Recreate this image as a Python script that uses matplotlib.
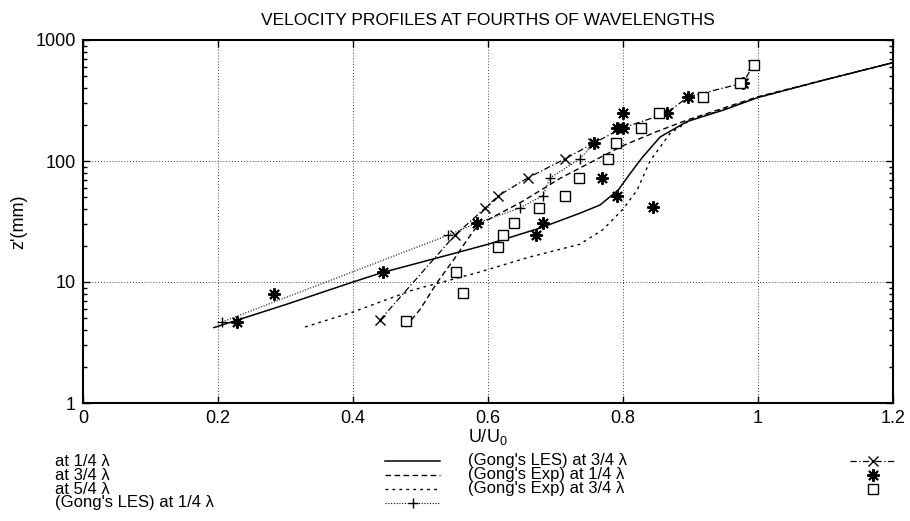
import matplotlib.pyplot as plt
from matplotlib.lines import Line2D
from matplotlib.ticker import LogLocator, NullFormatter

plt.rcParams['font.family'] = ['Liberation Sans', 'DejaVu Sans']

# velocity profiles, U/U0 against z' (mm)
u_quarter = [0.194, 0.30, 0.40, 0.444, 0.53, 0.60, 0.677, 0.736, 0.766, 0.793, 0.81,
             0.828, 0.855, 0.895, 0.95, 1.0, 1.1, 1.2]
z_quarter = [4.2, 6.5, 10.0, 12.0, 16.1, 20.5, 27.9, 37.0, 43.3, 57.6, 78.0,
             106, 158, 212, 265, 335, 470, 650]

u_3quarter = [0.478, 0.50, 0.524, 0.55, 0.569, 0.585, 0.65, 0.707, 0.75, 0.80, 0.85,
              0.895, 0.95, 1.0, 1.1, 1.2]
z_3quarter = [4.25, 6.0, 9.8, 15.5, 22.3, 29.5, 46, 72, 96, 134, 175,
              218, 275, 340, 470, 650]

u_5quarter = [0.329, 0.40, 0.489, 0.588, 0.66, 0.736, 0.77, 0.80, 0.821, 0.84, 0.87,
              0.90, 0.95, 1.0, 1.1, 1.2]
z_5quarter = [4.25, 5.65, 8.6, 12.1, 16.0, 20.5, 27.0, 40.0, 57.6, 100, 170,
              218, 268, 335, 470, 650]

# Gong's LES
les_u14 = [0.206, 0.541, 0.583, 0.647, 0.681, 0.692, 0.736, 0.757]
les_z14 = [4.67, 24.4, 30.6, 40.9, 51.5, 72.5, 104, 140]
les_u34 = [0.44, 0.551, 0.596, 0.615, 0.659, 0.714, 0.756, 0.80, 0.865, 0.896, 0.978, 0.993]
les_z34 = [4.85, 24.4, 40.9, 51.5, 72.5, 104, 140, 188, 249, 338, 441, 622]

# Gong's experiment
exp_u14 = [0.228, 0.283, 0.444, 0.671, 0.583, 0.681, 0.844, 0.791, 0.769, 0.757,
           0.791, 0.80, 0.80, 0.865, 0.896, 0.978]
exp_z14 = [4.7, 8.0, 12.1, 24.4, 30.6, 30.6, 41.5, 51.5, 72.5, 140,
           188, 188, 249, 249, 338, 441]
exp_u34 = [0.479, 0.563, 0.553, 0.615, 0.622, 0.638, 0.676, 0.714, 0.735, 0.778,
           0.79, 0.827, 0.853, 0.919, 0.973, 0.994]
exp_z34 = [4.76, 8.1, 12.1, 19.5, 24.4, 30.6, 40.9, 51.5, 72.5, 104,
           140, 188, 249, 338, 441, 622]

x_ticks = [0, 0.2, 0.4, 0.6, 0.8, 1.0, 1.2]
x_labels = ['0', '0.2', '0.4', '0.6', '0.8', '1', '1.2']
y_ticks = [1, 10, 100, 1000]
y_labels = ['1', '10', '100', '1000']

W, H = 910, 521
fig = plt.figure(figsize=(W / 100, H / 100), dpi=100)
ax = fig.add_axes([83 / W, 1 - 403 / H, 810 / W, 363 / H])

st_solid = dict(color='k', lw=1.1, ls='-')
st_dash = dict(color='k', lw=1.0, ls=(0, (4, 2.5)))
st_dot = dict(color='k', lw=1.0, ls=(0, (2, 3)))
st_les14 = dict(color='k', lw=0.8, ls=(0, (1, 1.5)), marker='+', ms=7, mew=1)
st_les34 = dict(color='k', lw=0.9, ls=(0, (5, 2, 1, 2)), marker='x', ms=7, mew=1)
st_exp14 = dict(color='k', ls='none', marker=(8, 2, 0), ms=9, mew=1.4)
st_exp34 = dict(color='k', ls='none', marker='s', ms=6.5, mew=1, mfc='white')

ax.plot(u_quarter, z_quarter, **st_solid)
ax.plot(u_3quarter, z_3quarter, **st_dash)
ax.plot(u_5quarter, z_5quarter, **st_dot)
ax.plot(les_u14, les_z14, **st_les14)
ax.plot(les_u34, les_z34, **st_les34)
ax.plot(exp_u14, exp_z14, **st_exp14)
ax.plot(exp_u34, exp_z34, **st_exp34)

ax.set_yscale('log')
ax.set_xlim(0, 1.2)
ax.set_ylim(1, 1000)
ax.set_xticks(x_ticks)
ax.set_xticklabels(x_labels)
ax.set_yticks(y_ticks)
ax.set_yticklabels(y_labels)
ax.yaxis.set_minor_locator(LogLocator(base=10, subs=range(2, 10)))
ax.yaxis.set_minor_formatter(NullFormatter())
ax.tick_params(which='both', direction='in', top=True, right=True, labelsize=13, pad=5)
ax.tick_params(which='major', length=5, width=1)
ax.tick_params(which='minor', length=3, width=1)
for sp in ax.spines.values():
    sp.set_linewidth(1.5)
ax.grid(which='major', color='k', lw=0.6, ls=(0, (1, 2.5)))

ax.set_title('VELOCITY PROFILES AT FOURTHS OF WAVELENGTHS', fontsize=12.5, pad=11)
ax.set_xlabel('U/U$_\\mathregular{0}$', fontsize=13, labelpad=0)
ax.set_ylabel("z'(mm)", fontsize=13, labelpad=6)

# legend drawn by hand: label on the left, sample on the right
def legend_row(x_text, y_text, label, x0, x1, y_line, style, marker_only=False):
    fig.text(x_text / W, 1 - y_text / H, label, fontsize=12, va='center', ha='left')
    if marker_only:
        xm = (x0 + x1) / 2
        fig.add_artist(Line2D([xm / W], [1 - y_line / H], transform=fig.transFigure, **style))
    else:
        fig.add_artist(Line2D([x0 / W, (x0 + x1) / 2 / W, x1 / W], [1 - y_line / H] * 3,
                              transform=fig.transFigure, markevery=[1], **style))

legend_row(55, 461, 'at 1/4 λ', 385, 440, 461, st_solid)
legend_row(55, 475, 'at 3/4 λ', 385, 440, 475, st_dash)
legend_row(55, 489, 'at 5/4 λ', 385, 440, 489, st_dot)
legend_row(55, 503, "(Gong's LES) at 1/4 λ", 385, 440, 503, st_les14)
legend_row(468, 461, "(Gong's LES) at 3/4 λ", 850, 895, 461, st_les34)
legend_row(468, 475, "(Gong's Exp) at 1/4 λ", 850, 895, 475, st_exp14, True)
legend_row(468, 489, "(Gong's Exp) at 3/4 λ", 850, 895, 489, st_exp34, True)

fig.savefig('out.png', dpi=100)
